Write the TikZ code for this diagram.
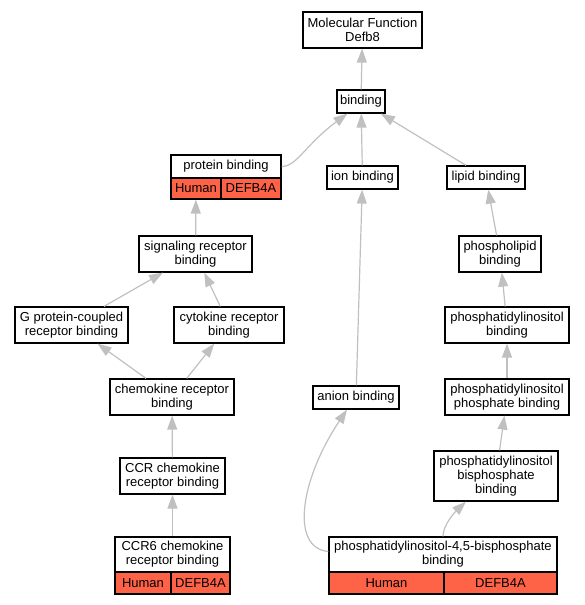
\documentclass[tikz,border=0pt]{standalone}
\usepackage{fontspec}
\setmainfont{Liberation Sans}
\usetikzlibrary{arrows.meta}
\definecolor{edgegray}{HTML}{C0C0C0}
\definecolor{hum}{HTML}{FF6347}
\begin{document}
\begin{tikzpicture}[x=1pt,y=-1pt,
  box/.style={draw=black, line width=1.2pt, fill=white, inner sep=0pt, align=center, font=\fontsize{13}{14}\selectfont},
  cell/.style={box, fill=hum},
  edge/.style={draw=edgegray, line width=1.2pt, -{Triangle[length=14pt,width=10pt]}}]
\useasboundingbox (0,0) rectangle (585,605);
% nodes
\node[box, minimum width=119pt, minimum height=36pt] (mf) at (362.5,30) {Molecular Function\\Defb8};
\node[box, minimum width=48pt, minimum height=23pt] (binding) at (361,101.5) {binding};
\node[box, minimum width=110pt, minimum height=23pt] (ptop) at (226,166.5) {protein binding};
\node[cell, minimum width=50pt, minimum height=21pt] (phum) at (196,188.5) {Human};
\node[cell, minimum width=60pt, minimum height=21pt] (pgene) at (251,188.5) {DEFB4A};
\node[box, minimum width=71pt, minimum height=23pt] (ion) at (362.5,177.5) {ion binding};
\node[box, minimum width=78pt, minimum height=23pt] (lipid) at (486,177.5) {lipid binding};
\node[box, minimum width=113pt, minimum height=36pt] (signal) at (195.5,254) {signaling receptor\\binding};
\node[box, minimum width=82pt, minimum height=36pt] (phlip) at (500,254) {phospholipid\\binding};
\node[box, minimum width=113pt, minimum height=36pt] (gpcr) at (71.5,325) {G protein-coupled\\receptor binding};
\node[box, minimum width=110pt, minimum height=36pt] (cyto) at (229,325) {cytokine receptor\\binding};
\node[box, minimum width=124pt, minimum height=36pt] (pib) at (507,325) {phosphatidylinositol\\binding};
\node[box, minimum width=124pt, minimum height=36pt] (chemo) at (172,397) {chemokine receptor\\binding};
\node[box, minimum width=86pt, minimum height=23pt] (anion) at (356,397.5) {anion binding};
\node[box, minimum width=124pt, minimum height=36pt] (pip) at (507,397) {phosphatidylinositol\\phosphate binding};
\node[box, minimum width=124pt, minimum height=50pt] (bisp) at (496,476) {phosphatidylinositol\\bisphosphate\\binding};
\node[box, minimum width=105pt, minimum height=36pt] (ccr) at (172.5,476) {CCR chemokine\\receptor binding};
\node[box, minimum width=115pt, minimum height=35pt] (ccrsix) at (172.5,554.5) {CCR6 chemokine\\receptor binding};
\node[cell, minimum width=56pt, minimum height=22pt] (chum) at (143,583) {Human};
\node[cell, minimum width=59pt, minimum height=22pt] (cgene) at (200.5,583) {DEFB4A};
\node[box, minimum width=228pt, minimum height=35pt] (pifive) at (443,554.5) {phosphatidylinositol-4,5-bisphosphate\\binding};
\node[cell, minimum width=115pt, minimum height=22pt] (fhum) at (386.5,583) {Human};
\node[cell, minimum width=113pt, minimum height=22pt] (fgene) at (500.5,583) {DEFB4A};
% edges
\draw[edge] (binding) -- (mf);
\draw[edge] (ptop.east) .. controls (297,166.5) and (305,145) .. ([xshift=11pt]binding.south west);
\draw[edge] (ion) -- (binding);
\draw[edge] (lipid) -- (binding);
\draw[edge] (signal) -- (phum);
\draw[edge] (gpcr) -- (signal);
\draw[edge] (cyto) -- (signal);
\draw[edge] (chemo) -- (gpcr);
\draw[edge] (chemo) -- (cyto);
\draw[edge] (ccr) -- (chemo);
\draw[edge] (ccrsix) -- (ccr);
\draw[edge] (anion) -- (ion);
\draw[edge] ([yshift=3pt]pifive.west) .. controls (290,548) and (300,480) .. ([xshift=-9pt]anion.south);
\draw[edge] (pifive.north) .. controls (443,525) and (455,512) .. ([xshift=-30pt]bisp.south);
\draw[edge] (bisp) -- (pip);
\draw[edge] (pip) -- (pib);
\draw[edge] (pib) -- (phlip);
\draw[edge] (phlip) -- (lipid);
\end{tikzpicture}
\end{document}
